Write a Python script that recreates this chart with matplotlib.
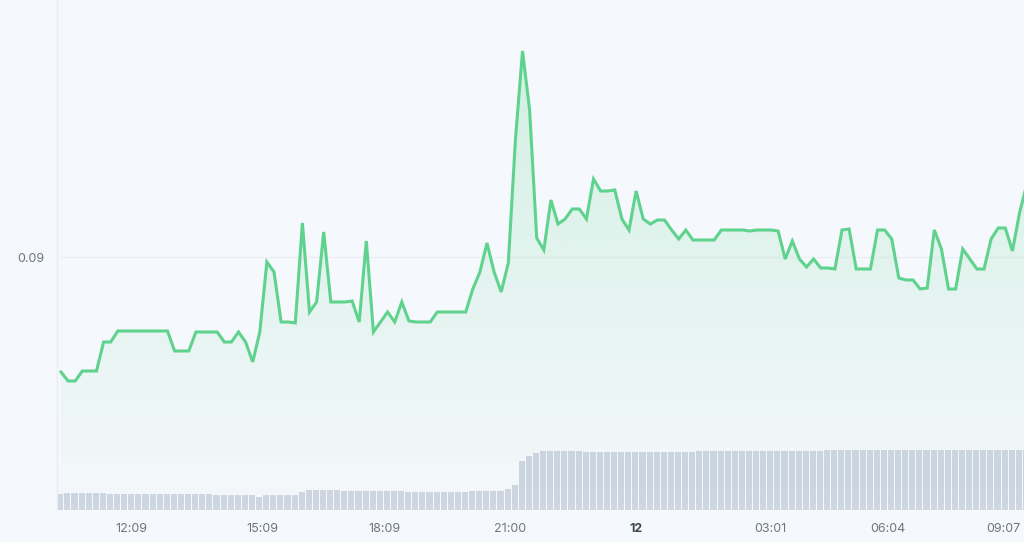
import numpy as np
import matplotlib
matplotlib.use('Agg')
import matplotlib.pyplot as plt
from matplotlib.colors import to_rgb

# price per 10-minute step (index 0 .. 136)
price = [0.08655, 0.08628, 0.08628, 0.08658, 0.08658, 0.08658, 0.08745, 0.08745,
         0.08778, 0.08778, 0.08778, 0.08778, 0.08778, 0.08778, 0.08778, 0.08778,
         0.08718, 0.08718, 0.08718, 0.08775, 0.08775, 0.08775, 0.08775, 0.08745,
         0.08745, 0.08775, 0.08745, 0.08685, 0.08775, 0.08985, 0.08955, 0.08805,
         0.08805, 0.08802, 0.09102, 0.08835, 0.08865, 0.09075, 0.08865, 0.08865,
         0.08865, 0.08868, 0.08805, 0.09048, 0.08775, 0.08805, 0.08835, 0.08805,
         0.08865, 0.08808, 0.08805, 0.08805, 0.08805, 0.08835, 0.08835, 0.08835,
         0.08835, 0.08835, 0.08904, 0.08955, 0.09042, 0.08955, 0.08895, 0.08982,
         0.09351, 0.09618, 0.09441, 0.09057, 0.09021, 0.09171, 0.09099, 0.09114,
         0.09144, 0.09144, 0.09114, 0.09234, 0.09198, 0.09198, 0.09201, 0.09114,
         0.09081, 0.09198, 0.09114, 0.09099, 0.09111, 0.09111, 0.09081, 0.09054,
         0.09081, 0.09051, 0.09051, 0.09051, 0.09051, 0.09081, 0.09081, 0.09081,
         0.09081, 0.09078, 0.09081, 0.09081, 0.09081, 0.09078, 0.08994, 0.09048,
         0.08994, 0.08970, 0.08994, 0.08967, 0.08967, 0.08964, 0.09081, 0.09084,
         0.08964, 0.08964, 0.08964, 0.09081, 0.09081, 0.09054, 0.08937, 0.08931,
         0.08931, 0.08904, 0.08907, 0.09081, 0.09024, 0.08904, 0.08904, 0.09024,
         0.08994, 0.08964, 0.08964, 0.09054, 0.09087, 0.09087, 0.09018, 0.09132,
         0.09216]

volume = ([160, 167, 167, 173, 173, 173, 170, 163, 163, 163, 160]
          + [157] * 11 + [147] * 6 + [133] + [153] * 5 + [180] + [200] * 5
          + [195] * 9 + [183] * 9 + [193] * 5 + [210, 250, 490, 540, 570]
          + [590] * 6 + [580] * 16 + [595] * 18 + [605] * 20 + [600] * 9)

tick_pos = [9.86, 28.3, 45.6, 63.2, 81.0, 99.9, 116.5, 132.7]
tick_labels = ['12:09', '15:09', '18:09', '21:00', '12', '03:01', '06:04', '09:07']

bg = '#f5f8fc'
green = '#5fd38d'
plt.rcParams['font.family'] = ['Inter', 'DejaVu Sans']

x = np.arange(len(price))
fig = plt.figure(figsize=(10.24, 5.42), dpi=100, facecolor=bg)
ax = fig.add_axes([57 / 1024, 32 / 542, 967 / 1024, 510 / 542])

ymin, ymax = 0.08241, 0.09771
xmin, xmax = -0.563, 135.63

# volume bars on a twin axis
ax2 = ax.twinx()
ax2.bar(x - 0.1, volume, width=0.85, color='#cdd6e1', zorder=1)
ax2.set_ylim(0, max(volume) * 8.45)
ax2.set_yticks([])
for s in ax2.spines.values():
    s.set_visible(False)
ax.set_zorder(ax2.get_zorder() + 1)
ax.patch.set_visible(False)
ax2.set_facecolor(bg)

# gradient fill under the line
poly = ax.fill_between(x, price, ymin, facecolor='none', edgecolor='none')
r, g, b = to_rgb(green)
n = 256
grad = np.zeros((n, 1, 4))
grad[:, 0, 0], grad[:, 0, 1], grad[:, 0, 2] = r, g, b
top = max(price)
grad[:, 0, 3] = np.linspace(0.23, 0.0, n)
im = ax.imshow(grad, extent=[xmin, xmax, ymin, top], aspect='auto',
               origin='upper', zorder=2)
im.set_clip_path(poly.get_paths()[0], transform=ax.transData)

ax.plot(x, price, color=green, lw=2.2, zorder=3, solid_joinstyle='miter')

ax.set_xlim(xmin, xmax)
ax.set_ylim(ymin, ymax)
ax.axhline(0.09, color='#eceff3', lw=1, zorder=0)

for s in ['top', 'right', 'bottom']:
    ax.spines[s].set_visible(False)
ax.spines['left'].set_color('#e9edf2')
ax.spines['left'].set_linewidth(1)

ax.set_yticks([0.09])
ax.set_yticklabels(['0.09'])
ax.set_xticks(tick_pos)
ax.set_xticklabels(tick_labels)
ax.tick_params(axis='both', length=0, labelsize=9, colors='#6e7582', pad=9)
for lab in ax.get_xticklabels():
    if lab.get_text() == '12':
        lab.set_fontweight('bold')
        lab.set_color('#3d4451')

fig.savefig('out.png', dpi=100, facecolor=bg)
